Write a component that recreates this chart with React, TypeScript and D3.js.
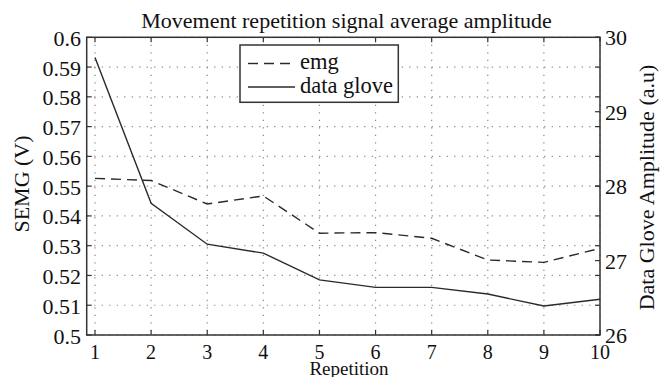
import React from "react";
import * as d3 from "d3";

const repetitions = [1, 2, 3, 4, 5, 6, 7, 8, 9, 10];
const emgValues = [0.5526, 0.5519, 0.544, 0.5467, 0.5342, 0.5344, 0.5325, 0.5252, 0.5244, 0.5291];
const gloveValues = [29.73, 27.77, 27.22, 27.1, 26.74, 26.64, 26.64, 26.55, 26.39, 26.48];
const leftTicks = [0.5, 0.51, 0.52, 0.53, 0.54, 0.55, 0.56, 0.57, 0.58, 0.59, 0.6];
const leftTickLabels = ["0.5", "0.51", "0.52", "0.53", "0.54", "0.55", "0.56", "0.57", "0.58", "0.59", "0.6"];
const rightTicks = [26, 27, 28, 29, 30];
const titleText = "Movement repetition signal average amplitude";
const legendLabels = ["emg", "data glove"];

const W = 668;
const H = 377;
const M = { left: 86.7, right: 600, top: 37.3, bottom: 335 };
const FONT = "'Liberation Serif', 'Times New Roman', serif";
const AX = "#333";
const LINE = "#2a2a2a";

export default function App() {
  const x = d3.scaleLinear().domain([1, 10]).range([95, 600]);
  const yL = d3.scaleLinear().domain([0.5, 0.6]).range([M.bottom, M.top]);
  const yR = d3.scaleLinear().domain([26, 30]).range([M.bottom, M.top]);

  const emgLine = d3
    .line<number>()
    .x((_, i) => x(repetitions[i]))
    .y((d) => yL(d))(emgValues) as string;
  const gloveLine = d3
    .line<number>()
    .x((_, i) => x(repetitions[i]))
    .y((d) => yR(d))(gloveValues) as string;

  const tl = 5;
  const lg = { x: 240, y: 45, w: 158.3, h: 57.3 };

  return (
    <svg
      width={W}
      height={H}
      style={{ position: "fixed", left: 0, top: 0, background: "#fff" }}
      fontFamily={FONT}
    >
      <rect x={0} y={0} width={W} height={H} fill="#fff" />
      {/* grid */}
      <g stroke="#888" strokeWidth={1.2} strokeDasharray="1.2 6.3">
        {repetitions.map((r) => (
          <line key={"gx" + r} x1={x(r)} x2={x(r)} y1={M.top} y2={M.bottom} />
        ))}
        {leftTicks.map((t) => (
          <line key={"gy" + t} x1={M.left} x2={M.right} y1={yL(t)} y2={yL(t)} />
        ))}
      </g>
      {/* ticks */}
      <g stroke={AX} strokeWidth={1.2}>
        {repetitions.map((r) => (
          <g key={"tx" + r}>
            <line x1={x(r)} x2={x(r)} y1={M.bottom} y2={M.bottom - tl} />
            <line x1={x(r)} x2={x(r)} y1={M.top} y2={M.top + tl} />
          </g>
        ))}
        {leftTicks.map((t) => (
          <g key={"ty" + t}>
            <line x1={M.left} x2={M.left + tl} y1={yL(t)} y2={yL(t)} />
            <line x1={M.right} x2={M.right - tl} y1={yL(t)} y2={yL(t)} />
          </g>
        ))}
        {rightTicks.map((t) => (
          <line key={"tr" + t} x1={M.right} x2={M.right - tl} y1={yR(t)} y2={yR(t)} />
        ))}
      </g>
      {/* data */}
      <path d={emgLine} fill="none" stroke={LINE} strokeWidth={1.4} strokeDasharray="10 6" />
      <path d={gloveLine} fill="none" stroke={LINE} strokeWidth={1.4} />
      {/* box */}
      <rect
        x={M.left}
        y={M.top}
        width={M.right - M.left}
        height={M.bottom - M.top}
        fill="none"
        stroke={AX}
        strokeWidth={1.5}
      />
      {/* tick labels */}
      <g fontSize={22} fill="#111">
        {leftTicks.map((t, i) => (
          <text key={"ll" + t} x={81} y={yL(t) + 8.5} textAnchor="end">
            {leftTickLabels[i]}
          </text>
        ))}
        {rightTicks.map((t) => (
          <text key={"rl" + t} x={605} y={yR(t) + 8} textAnchor="start">
            {t}
          </text>
        ))}
      </g>
      <g fontSize={20} fill="#111">
        {repetitions.map((r) => (
          <text key={"xl" + r} x={x(r)} y={359} textAnchor="middle">
            {r}
          </text>
        ))}
      </g>
      {/* title and axis labels */}
      <text x={346.5} y={28} fontSize={22} textAnchor="middle" fill="#111">
        {titleText}
      </text>
      <text x={349} y={375} fontSize={19} textAnchor="middle" fill="#111">
        Repetition
      </text>
      <text
        transform={`translate(28.5, 184) rotate(-90)`}
        fontSize={22}
        textAnchor="middle"
        fill="#111"
      >
        SEMG (V)
      </text>
      <text
        transform={`translate(653.5, 187.5) rotate(-90)`}
        fontSize={22}
        textAnchor="middle"
        fill="#111"
      >
        Data Glove Amplitude (a.u)
      </text>
      {/* legend */}
      <rect x={lg.x} y={lg.y} width={lg.w} height={lg.h} fill="#fff" stroke={AX} strokeWidth={1.5} />
      <line x1={248} x2={295} y1={63.5} y2={63.5} stroke={LINE} strokeWidth={1.4} strokeDasharray="10 6" />
      <line x1={248} x2={295} y1={87} y2={87} stroke={LINE} strokeWidth={1.4} />
      <text x={300} y={68.5} fontSize={22.5} fill="#111">
        {legendLabels[0]}
      </text>
      <text x={300} y={93.3} fontSize={22.5} fill="#111">
        {legendLabels[1]}
      </text>
    </svg>
  );
}
